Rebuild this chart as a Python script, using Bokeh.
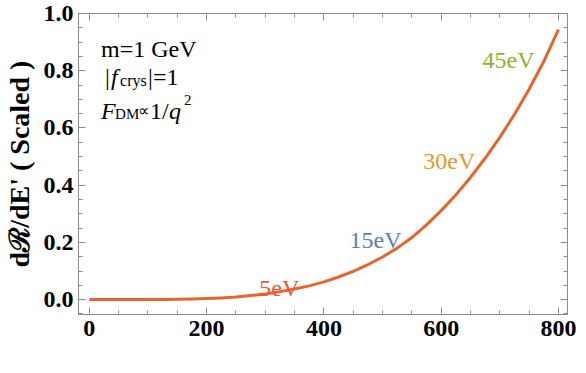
from bokeh.plotting import figure
from bokeh.models import (LinearAxis, SingleIntervalTicker, Label, Range1d,
                          PrintfTickFormatter, ColumnDataSource, CustomJSTickFormatter)
from bokeh.core.properties import value
from bokeh.embed import file_html
from bokeh.resources import INLINE

# ---- data ----
vmin = [0, 25, 50, 75, 100, 125, 150, 175, 200, 225, 250, 275, 300, 325, 350, 375,
        400, 425, 450, 475, 500, 525, 550, 575, 600, 625, 650, 675, 700, 725, 750,
        775, 800]
rate = [0.0, 0.0, 0.0, 0.0, 0.0002, 0.0005, 0.001, 0.002, 0.0035, 0.006, 0.009,
        0.014, 0.020, 0.028, 0.037, 0.048, 0.062, 0.079, 0.099, 0.122, 0.149,
        0.180, 0.217, 0.261, 0.311, 0.366, 0.427, 0.494, 0.567, 0.647, 0.735,
        0.832, 0.944]

energy_labels = ["5eV", "15eV", "30eV", "45eV"]
energy_colors = ["#EB5A3A", "#5E81B5", "#E19C24", "#8FB032"]
energy_label_x = [324, 488, 614, 715]
energy_label_y = [0.042, 0.208, 0.486, 0.837]

x_ticks_interval = 200
y_ticks_interval = 0.2

SERIF = "Liberation Serif"
AXC = "#8c8c8c"

p = figure(width=578, height=365, output_backend="svg", toolbar_location=None,
           x_range=Range1d(-18.5, 815.5), y_range=Range1d(-0.052, 1.0),
           x_axis_location=None, y_axis_location=None)
p.min_border_left = 70
p.min_border_right = 11
p.min_border_top = 13
p.min_border_bottom = 51
p.xgrid.visible = False
p.ygrid.visible = False
p.outline_line_color = AXC
p.background_fill_color = "white"
p.border_fill_color = "white"


def style(ax, labels=True):
    ax.axis_line_color = AXC
    ax.major_tick_line_color = AXC
    ax.minor_tick_line_color = AXC
    ax.major_tick_in = 7
    ax.major_tick_out = 0
    ax.minor_tick_in = 4
    ax.minor_tick_out = 0
    if labels:
        ax.major_label_text_font = SERIF
        ax.major_label_text_font_style = "bold"
        ax.major_label_text_font_size = "24px"
        ax.major_label_text_color = "black"
    else:
        ax.formatter = CustomJSTickFormatter(code="return ''")
        ax.major_label_standoff = 0


xb = LinearAxis(ticker=SingleIntervalTicker(interval=x_ticks_interval, num_minor_ticks=4))
style(xb)
xb.major_label_standoff = 6
p.add_layout(xb, "below")

xt = LinearAxis(ticker=SingleIntervalTicker(interval=x_ticks_interval, num_minor_ticks=4))
style(xt, labels=False)
p.add_layout(xt, "above")

yl = LinearAxis(ticker=SingleIntervalTicker(interval=y_ticks_interval, num_minor_ticks=4),
                formatter=PrintfTickFormatter(format="%.1f"))
style(yl)
yl.major_label_standoff = 5
yl.axis_label = "dℛ/dE' ( Scaled )"
yl.axis_label_text_font = SERIF
yl.axis_label_text_font_style = "bold"
yl.axis_label_text_font_size = "28px"
yl.axis_label_text_color = "black"
yl.axis_label_standoff = 6
p.add_layout(yl, "left")

yr = LinearAxis(ticker=SingleIntervalTicker(interval=y_ticks_interval, num_minor_ticks=4))
style(yr, labels=False)
p.add_layout(yr, "right")

# curve
p.line(vmin, rate, line_color="#E6652D", line_width=3, line_join="round")

# energy labels along the curve
src = ColumnDataSource(dict(x=energy_label_x, y=energy_label_y,
                            t=energy_labels, c=energy_colors))
p.text(x="x", y="y", text="t", text_color="c", source=src,
       text_font=value(SERIF), text_font_size="24px",
       text_align="center", text_baseline="alphabetic")


def lab(x, y, text, dx=0, dy=0, size="24px", style_="normal"):
    p.add_layout(Label(x=x, y=y, text=text, x_offset=dx, y_offset=dy,
                       text_font=SERIF, text_font_size=size, text_font_style=style_,
                       text_color="black", text_baseline="alphabetic",
                       text_align="left"))


# parameter box (top-left)
lab(20, 0.875, "m=1 GeV")
# |f_crys|=1
lab(20, 0.778, "|", dx=4)
lab(20, 0.778, "f", dx=10, style_="italic")
lab(20, 0.778, "crys", dx=19, dy=-3, size="16px")
lab(20, 0.778, "|=1", dx=47)
# F_DM ∝ 1/q^2
lab(20, 0.66, "F", dx=0, style_="italic")
lab(20, 0.66, "DM", dx=14, dy=-3, size="15px")
lab(20, 0.66, "∝", dx=37, size="16px")
lab(20, 0.66, "1/", dx=49)
lab(20, 0.66, "q", dx=68, style_="italic")
lab(20, 0.66, "2", dx=83, dy=11, size="15px")

# x-axis title (cut off by the bottom edge, as in the original)
XT_Y = -0.16
for txt, dx, dy, size, st in [("[km/s]", 0, 0, "28px", "bold"),
                              ("v", -50, 0, "28px", "bold italic"),
                              ("min", -37, -8, "19px", "bold")]:
    p.add_layout(Label(x=376, y=XT_Y, x_offset=dx, y_offset=dy, text=txt,
                       text_font=SERIF, text_font_size=size, text_font_style=st,
                       text_align="left", text_baseline="top", text_color="black",
                       level="overlay"))

open("out.html", "w").write(file_html(p, INLINE))
